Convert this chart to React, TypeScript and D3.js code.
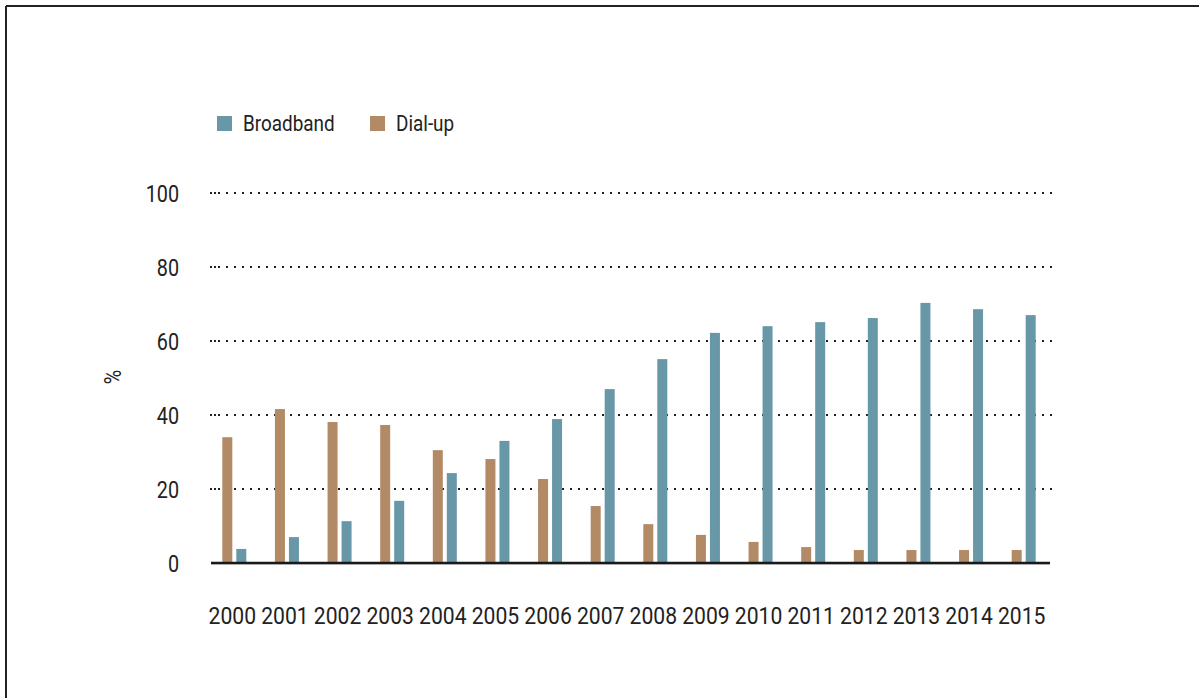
import React from "react";
import * as d3 from "d3";

const years = ["2000","2001","2002","2003","2004","2005","2006","2007","2008","2009","2010","2011","2012","2013","2014","2015"];
const broadband = [3.8, 7.0, 11.3, 16.8, 24.3, 33.0, 38.9, 47.0, 55.1, 62.2, 64.0, 65.1, 66.2, 70.3, 68.6, 67.0];
const dialup = [34.0, 41.6, 38.1, 37.3, 30.5, 28.1, 22.7, 15.4, 10.5, 7.6, 5.7, 4.3, 3.5, 3.5, 3.5, 3.5];
const yTicks = [0, 20, 40, 60, 80, 100];
const seriesNames = ["Dial-up", "Broadband"];
const legendItems = ["Broadband", "Dial-up"];
const colors: Record<string, string> = { Broadband: "#6897a8", "Dial-up": "#b28a66" };

const W = 1199, H = 698;
const FONT = "Roboto, 'Liberation Sans', sans-serif";
const TEXT = "#222";

function T({ x, y, anchor = "start", size, children, rotate = 0, sx = 0.86 }: any) {
  return (
    <text transform={`translate(${x},${y}) rotate(${rotate}) scale(${sx},1)`} textAnchor={anchor}
      fontSize={size} fill={TEXT} fontWeight={400}>{children}</text>
  );
}

export default function App() {
  const x = d3.scaleBand<string>().domain(years).range([208, 1050]).paddingInner(0).paddingOuter(0);
  const xs = d3.scaleBand<string>().domain(seriesNames).range([-12, 12]).paddingInner(4 / 14).paddingOuter(0);
  const y = d3.scaleLinear().domain([0, 100]).range([563, 193]);
  const values: Record<string, number[]> = { Broadband: broadband, "Dial-up": dialup };

  return (
    <svg width={W} height={H} style={{ position: "absolute", left: 0, top: 0, background: "#fff" }} fontFamily={FONT}>
      <rect x={0} y={0} width={W} height={H} fill="#fff" />
      {/* frame */}
      <line x1={6} y1={6} x2={W} y2={6} stroke="#222" strokeWidth={2} />
      <line x1={6} y1={6} x2={6} y2={H} stroke="#222" strokeWidth={2} />

      {/* legend */}
      {legendItems.map((name, i) => {
        const lx = i === 0 ? 217 : 370;
        return (
          <g key={name}>
            <rect x={lx} y={116} width={15} height={15} fill={colors[name]} />
            <T x={lx + 26} y={131} size={22}>{name}</T>
          </g>
        );
      })}

      {/* gridlines */}
      {yTicks.filter(t => t > 0).map(t => (
        <g key={t}>
          <line x1={210} x2={1052} y1={y(t)} y2={y(t)} stroke="#222" strokeWidth={2} strokeDasharray="2 6" />
          <rect x={214} y={y(t) - 1} width={2} height={2} fill="#222" />
        </g>
      ))}

      {/* y tick labels */}
      {yTicks.map(t => (
        <T key={t} x={179} y={y(t) + 9} anchor="end" size={23}>{t}</T>
      ))}
      <T x={121} y={377} anchor="middle" size={23} rotate={-90}>%</T>

      {/* bars */}
      {years.map((yr, i) => (
        <g key={yr} transform={`translate(${(x(yr) as number) + x.bandwidth() / 2},0)`}>
          {seriesNames.map(s => (
            <rect key={s} x={xs(s) as number} width={xs.bandwidth()} y={y(values[s][i])}
              height={y(0) - y(values[s][i])} fill={colors[s]} />
          ))}
        </g>
      ))}

      {/* baseline */}
      <line x1={211} x2={1050} y1={564} y2={564} stroke="#bbb" strokeWidth={1} />
      <line x1={211} x2={1050} y1={563} y2={563} stroke="#1a1a1a" strokeWidth={2.5} />

      {/* x labels */}
      {years.map(yr => (
        <T key={yr} x={(x(yr) as number) + x.bandwidth() / 2 - 2} y={624} anchor="middle" size={24} sx={0.88}>{yr}</T>
      ))}
    </svg>
  );
}
